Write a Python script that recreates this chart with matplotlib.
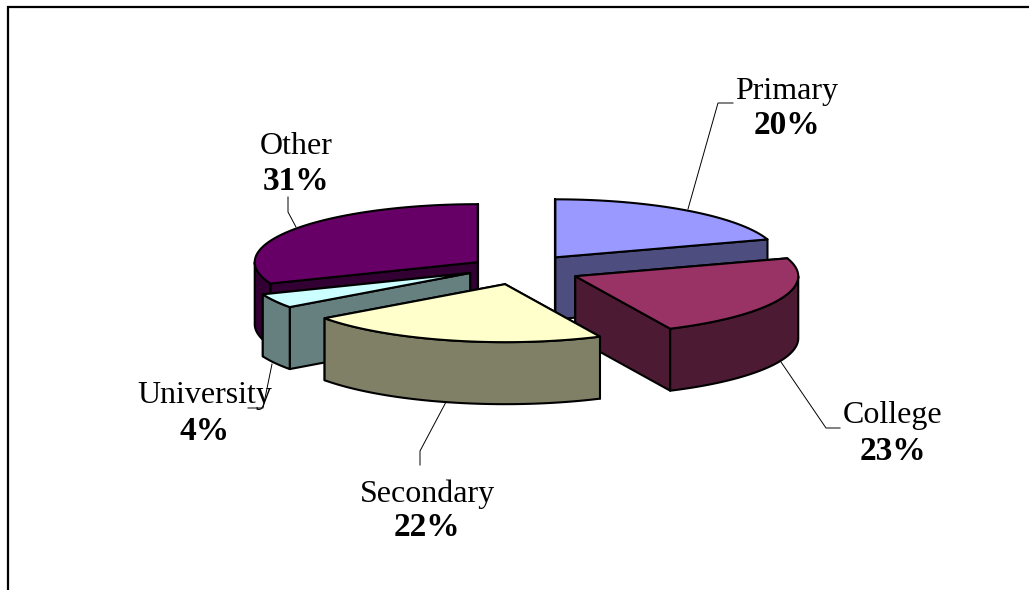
import numpy as np
import matplotlib
matplotlib.use('Agg')
import matplotlib.pyplot as plt
from matplotlib.patches import Polygon

labels = ['Primary', 'College', 'Secondary', 'University', 'Other']
values = [20, 23, 22, 4, 31]
explode = [0.27, 0.27, 0.27, 0.25, 0.24]
top_colors = ['#9999FF', '#993366', '#FFFFCC', '#CCFFFF', '#660066']
side_colors = ['#4D4D80', '#4D1A33', '#808066', '#668080', '#330033']

# small pixel nudges on top of the explode offset
nudge = [(0, 0), (0, 0), (0, -1), (-1, -4), (2, 0)]

# label centre x, name line y, percent line y
label_pos = [(787, 91, 125), (893, 416, 451), (427, 494, 528), (205, 396, 431), (296, 147, 182)]
leaders = [
    [(733, 103), (718, 103), (688, 209)],
    [(840, 428), (826, 428), (781, 362)],
    [(420, 465), (420, 451), (446, 402)],
    [(248, 408), (263, 408), (272, 364)],
    [(288, 197), (288, 212), (296, 227)],
]

# pie geometry in pixels
cx, cy = 520, 270
rx, ry = 223, 58
depth = 62
draw_order = [4, 0, 3, 1, 2]

fig = plt.figure(figsize=(10.29, 5.90), dpi=100)
ax = fig.add_axes([0, 0, 1, 1])
ax.set_xlim(0, 1029)
ax.set_ylim(590, 0)
ax.axis('off')

ax.plot([8, 8, 1029], [590, 7, 7], color='black', lw=1.6, solid_joinstyle='miter')

bounds = np.cumsum([0] + values) * 3.6


def rim(x0, y0, a):
    a = np.radians(a)
    return x0 + rx * np.sin(a), y0 - ry * np.cos(a)


def add_poly(pts, color, z):
    ax.add_patch(Polygon(pts, closed=True, facecolor=color, edgecolor='black',
                         lw=1.5, joinstyle='round', zorder=z))


z = 2
for i in draw_order:
    a0, a1 = bounds[i], bounds[i + 1]
    mid = np.radians((a0 + a1) / 2)
    x0 = cx + explode[i] * rx * np.sin(mid) + nudge[i][0]
    y0 = cy - explode[i] * ry * np.cos(mid) + nudge[i][1]

    # the two cut faces, back one first
    ends = sorted([a0, a1], key=lambda a: rim(x0, y0, a)[1])
    for a in ends:
        x1, y1 = rim(x0, y0, a)
        add_poly([(x0, y0), (x1, y1), (x1, y1 + depth), (x0, y0 + depth)], side_colors[i], z)
        z += 1

    # outer wall, only the part facing the viewer
    lo, hi = max(a0, 90), min(a1, 270)
    if lo < hi:
        t = np.linspace(lo, hi, 60)
        xs, ys = rim(x0, y0, t)
        wall = list(zip(xs, ys)) + list(zip(xs[::-1], ys[::-1] + depth))
        add_poly(wall, side_colors[i], z)
        z += 1

    t = np.linspace(a0, a1, 100)
    xs, ys = rim(x0, y0, t)
    add_poly([(x0, y0)] + list(zip(xs, ys)), top_colors[i], z)
    z += 1

for pts in leaders:
    xs, ys = zip(*pts)
    ax.plot(xs, ys, color='black', lw=0.7, zorder=z)
z += 1

for name, val, (x, y1, y2) in zip(labels, values, label_pos):
    ax.text(x, y1, name, family='Liberation Serif', fontsize=23, ha='center', va='center', zorder=z)
    ax.text(x, y2, f'{val}%', family='Liberation Serif', fontsize=24, fontweight='bold',
            ha='center', va='center', zorder=z)

fig.savefig('out.png', dpi=100)
